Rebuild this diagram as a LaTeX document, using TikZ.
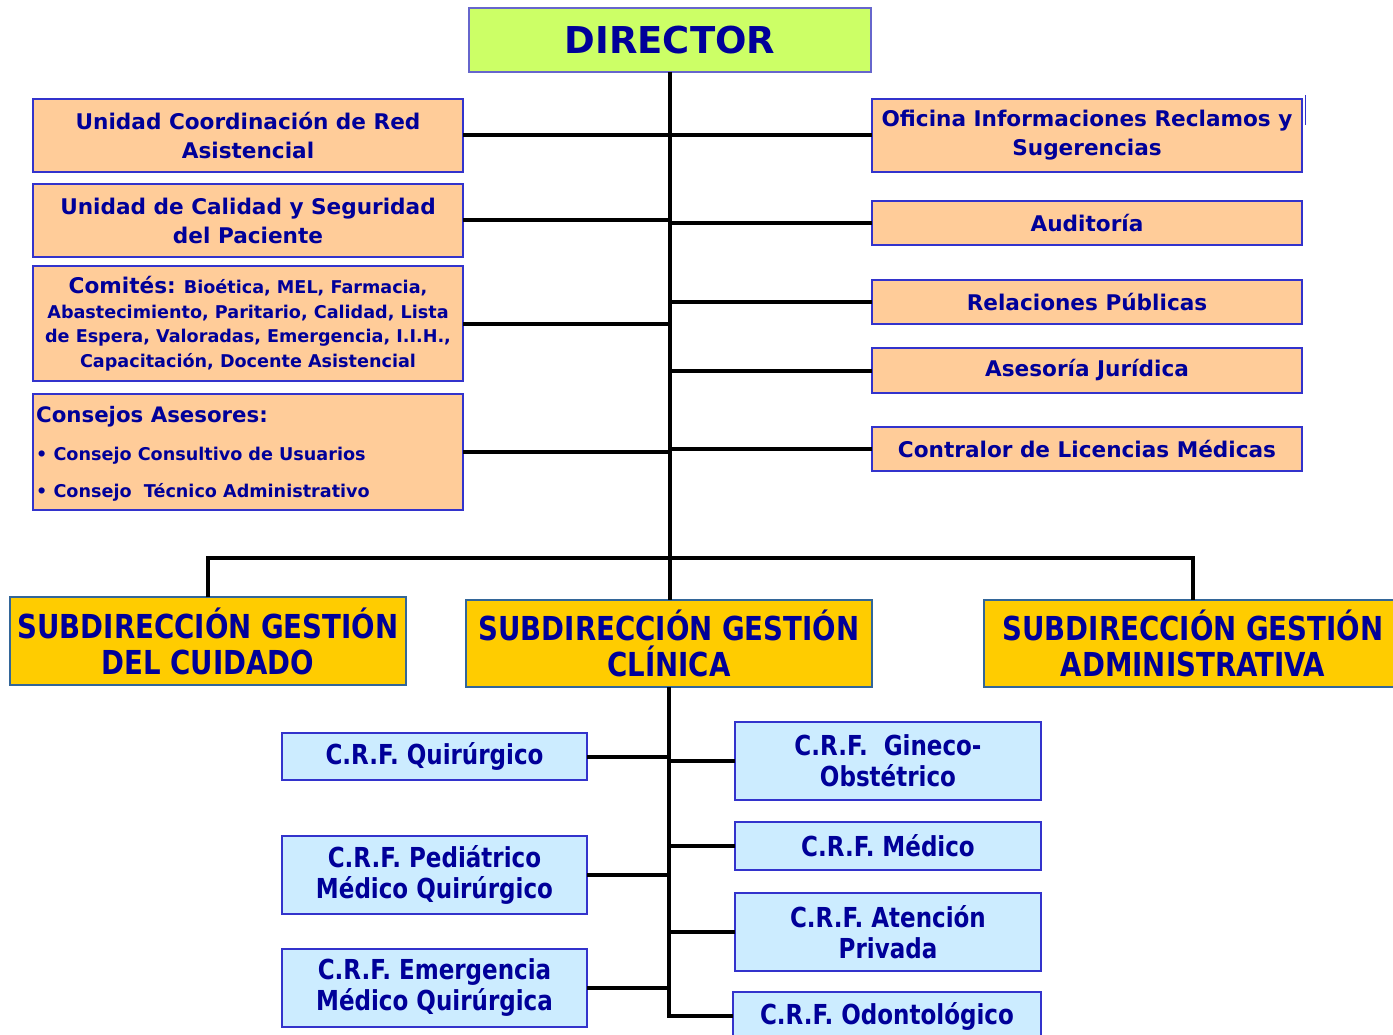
\documentclass[tikz,border=0pt]{standalone}
\usepackage{fontspec}
\setmainfont{DejaVu Sans}
\newfontfamily\condf{DejaVu Sans Condensed}[FakeStretch=0.93]
\definecolor{tblue}{HTML}{000099}
\definecolor{dirfill}{HTML}{CCFF66}
\definecolor{dirline}{HTML}{6666CC}
\definecolor{orfill}{HTML}{FFCC99}
\definecolor{bline}{HTML}{3333CC}
\definecolor{yfill}{HTML}{FFCC00}
\definecolor{yline}{HTML}{336699}
\definecolor{lbfill}{HTML}{CCECFF}
\newcommand\obox[7]{\node[#6, minimum width={#4-#2}, minimum height={#5-#3}] (#1) at ({(#2+#4)/2},{(#3+#5)/2}) {#7};}
\begin{document}
\begin{tikzpicture}[x=1pt,y=-1pt,
  box/.style={draw, line width=1.2pt, inner sep=0pt, outer sep=0pt, align=center, text=tblue},
  dirbox/.style={box, fill=dirfill, draw=dirline, font=\bfseries\fontsize{37}{44}\selectfont},
  orbox/.style={box, fill=orfill, draw=bline, font=\bfseries\fontsize{21.6}{29}\selectfont},
  subbox/.style={box, fill=yfill, draw=yline, line width=1.6pt, font=\condf\bfseries\fontsize{33}{36}\selectfont},
  crfbox/.style={box, fill=lbfill, draw=bline, font=\condf\bfseries\fontsize{27.5}{31}\selectfont},
  conn/.style={draw=black, line width=4pt, line join=miter}]
\useasboundingbox (0,0) rectangle (1393,1035);
% top
\obox{dir}{469}{8}{871}{72}{dirbox}{DIRECTOR}
% left column
\obox{ucr}{33}{99}{463}{172}{orbox}{Unidad Coordinación de Red\\Asistencial}
\obox{ucs}{33}{184}{463}{257}{orbox}{Unidad de Calidad y Seguridad\\del Paciente}
\obox{com}{33}{266}{463}{381}{orbox, font=\bfseries\fontsize{17.6}{24.5}\selectfont}{{\fontsize{21.6}{24.5}\selectfont Comités:} Bioética, MEL, Farmacia,\\Abastecimiento, Paritario, Calidad, Lista\\de Espera, Valoradas, Emergencia, I.I.H.,\\Capacitación, Docente Asistencial}
\obox{cons}{33}{394}{463}{510}{orbox}{}
\node[anchor=west, text=tblue, font=\bfseries\fontsize{21.3}{24}\selectfont, inner sep=0pt] (consT) at (36,417) {Consejos Asesores:};
\node[anchor=west, text=tblue, font=\bfseries\fontsize{17.6}{20}\selectfont, inner sep=0pt] (cons1) at (36,456) {• Consejo Consultivo de Usuarios};
\node[anchor=west, text=tblue, font=\bfseries\fontsize{17.6}{20}\selectfont, inner sep=0pt] (cons2) at (36,492) {• Consejo\ \ Técnico Administrativo};
% right column
\obox{ofi}{872}{99}{1302}{172}{orbox}{Oficina Informaciones Reclamos y\\Sugerencias}
\obox{aud}{872}{201}{1302}{245}{orbox}{Auditoría}
\obox{rp}{872}{280}{1302}{324}{orbox}{Relaciones Públicas}
\obox{aj}{872}{348}{1302}{393}{orbox}{Asesoría Jurídica}
\obox{clm}{872}{427}{1302}{471}{orbox}{Contralor de Licencias Médicas}
\coordinate (stA) at (1305,95);
\coordinate (stB) at (1305,125);
\draw[bline, line width=1pt] (stA) -- (stB);
% subdirecciones
\obox{subl}{10}{597}{406}{685}{subbox}{SUBDIRECCIÓN GESTIÓN\\DEL CUIDADO}
\obox{subc}{466}{600}{872}{687}{subbox}{SUBDIRECCIÓN GESTIÓN\\CLÍNICA}
\obox{subr}{984}{600}{1402}{687}{subbox}{SUBDIRECCIÓN GESTIÓN\\ADMINISTRATIVA}
% CRF boxes
\obox{qui}{282}{733}{587}{780}{crfbox}{C.R.F. Quirúrgico}
\obox{ped}{282}{836}{587}{914}{crfbox}{C.R.F. Pediátrico\\Médico Quirúrgico}
\obox{eme}{282}{949}{587}{1027}{crfbox}{C.R.F. Emergencia\\Médico Quirúrgica}
\obox{gin}{735}{722}{1041}{800}{crfbox}{C.R.F.\ \ Gineco-\\Obstétrico}
\obox{med}{735}{822}{1041}{870}{crfbox}{C.R.F. Médico}
\obox{ate}{735}{893}{1041}{971}{crfbox}{C.R.F. Atención\\Privada}
\obox{odo}{733}{992}{1041}{1040}{crfbox}{C.R.F. Odontológico}
% connectors upper
\coordinate (bus) at (669,558);
\draw[conn] (dir.south) -- (dir.south |- subc.north);
\foreach \n in {ucr,ucs,com,cons}{\draw[conn] (\n.east) -- (\n.east -| dir.south);}
\foreach \n in {ofi,aud,rp,aj,clm}{\draw[conn] (\n.west) -- (\n.west -| dir.south);}
\draw[conn] (subl.north) -- (subl.north |- bus) -- (subr.north |- bus) -- (subr.north);
% connectors lower
\draw[conn] (subc.south) -- (subc.south |- odo.west) -- (odo.west);
\foreach \n in {qui,ped,eme}{\draw[conn] (\n.east) -- (\n.east -| subc.south);}
\foreach \n in {gin,med,ate}{\draw[conn] (\n.west) -- (\n.west -| subc.south);}
\end{tikzpicture}
\end{document}
